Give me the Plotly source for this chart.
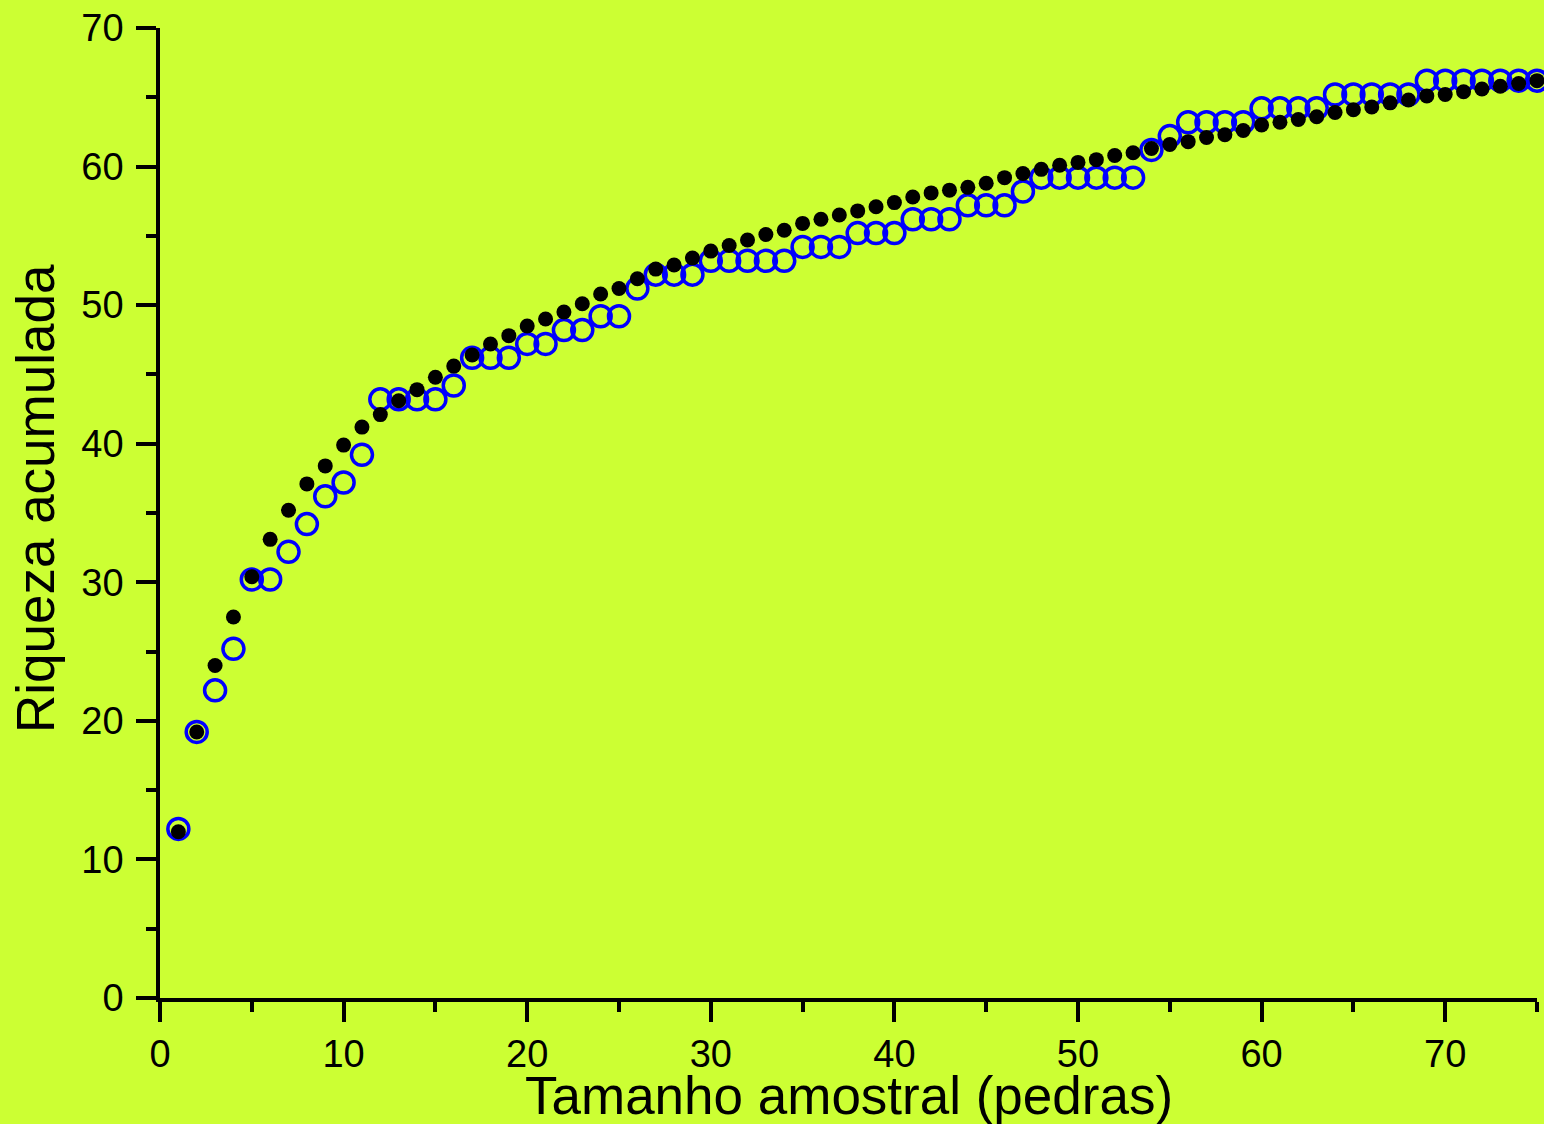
import plotly.graph_objects as go

sample_size = list(range(1, 76))

richness_estimated = [
    12.0, 19.2, 24.0, 27.5, 30.4, 33.1, 35.2, 37.1, 38.4, 39.9,
    41.2, 42.1, 43.1, 43.9, 44.8, 45.6, 46.4, 47.2, 47.8, 48.5,
    49.0, 49.5, 50.1, 50.8, 51.2, 51.9, 52.6, 52.9, 53.4, 53.9,
    54.3, 54.7, 55.1, 55.4, 55.9, 56.2, 56.5, 56.8, 57.1, 57.4,
    57.8, 58.1, 58.3, 58.5, 58.8, 59.2, 59.5, 59.8, 60.1, 60.3,
    60.5, 60.8, 61.0, 61.3, 61.6, 61.8, 62.1, 62.3, 62.6, 63.0,
    63.2, 63.4, 63.6, 63.9, 64.1, 64.3, 64.6, 64.8, 65.1, 65.2,
    65.4, 65.6, 65.8, 66.0, 66.2,
]

richness_observed = [
    12.2, 19.2, 22.2, 25.2, 30.2, 30.2, 32.2, 34.2, 36.2, 37.2,
    39.2, 43.2, 43.2, 43.2, 43.2, 44.2, 46.2, 46.2, 46.2, 47.2,
    47.2, 48.2, 48.2, 49.2, 49.2, 51.2, 52.2, 52.2, 52.2, 53.2,
    53.2, 53.2, 53.2, 53.2, 54.2, 54.2, 54.2, 55.2, 55.2, 55.2,
    56.2, 56.2, 56.2, 57.2, 57.2, 57.2, 58.2, 59.2, 59.2, 59.2,
    59.2, 59.2, 59.2, 61.2, 62.2, 63.2, 63.2, 63.2, 63.2, 64.2,
    64.2, 64.2, 64.2, 65.2, 65.2, 65.2, 65.2, 65.2, 66.2, 66.2,
    66.2, 66.2, 66.2, 66.2, 66.2,
]

x_title = "Tamanho amostral (pedras)"
y_title = "Riqueza acumulada"

BG = "#CCFF33"
FONT = "Liberation Sans, Arial, sans-serif"

fig = go.Figure()
fig.add_trace(go.Scatter(
    x=sample_size, y=richness_observed, mode="markers",
    marker=dict(symbol="circle-open", size=21, color="#0000FF",
                line=dict(width=3.5, color="#0000FF")),
    cliponaxis=False, hoverinfo="x+y",
))
fig.add_trace(go.Scatter(
    x=sample_size, y=richness_estimated, mode="markers",
    marker=dict(symbol="circle", size=15, color="#000000", line=dict(width=0)),
    cliponaxis=False, hoverinfo="x+y",
))

axis_common = dict(
    showline=True, linecolor="black", linewidth=3.5,
    ticks="outside", ticklen=20, tickwidth=3.5, tickcolor="black",
    showgrid=False, zeroline=False,
    tickfont=dict(family=FONT, size=38, color="black"),
    minor=dict(ticks="outside", ticklen=10, tickwidth=3.5, tickcolor="black",
               dtick=5, showgrid=False),
)

fig.update_layout(
    width=1544, height=1124,
    margin=dict(l=160, r=7, t=25, b=126),
    paper_bgcolor=BG, plot_bgcolor=BG,
    showlegend=False,
    font=dict(family=FONT, color="black"),
    xaxis=dict(range=[0, 75], tick0=0, dtick=10, **axis_common),
    yaxis=dict(range=[0, 70], tick0=0, dtick=10, ticklabelstandoff=5, **axis_common),
    annotations=[
        dict(text=x_title, xref="paper", yref="paper", x=0.5, y=-0.1005,
             xanchor="center", yanchor="middle", showarrow=False,
             font=dict(family=FONT, size=53, color="black")),
        dict(text=y_title, xref="paper", yref="paper", x=-0.0908, y=0.5154,
             xanchor="center", yanchor="middle", showarrow=False, textangle=-90,
             font=dict(family=FONT, size=53, color="black")),
    ],
)

fig.write_html(
    "out.html",
    config={"displayModeBar": False},
    post_script="document.body.style.margin='0';document.body.style.overflow='hidden';",
)
